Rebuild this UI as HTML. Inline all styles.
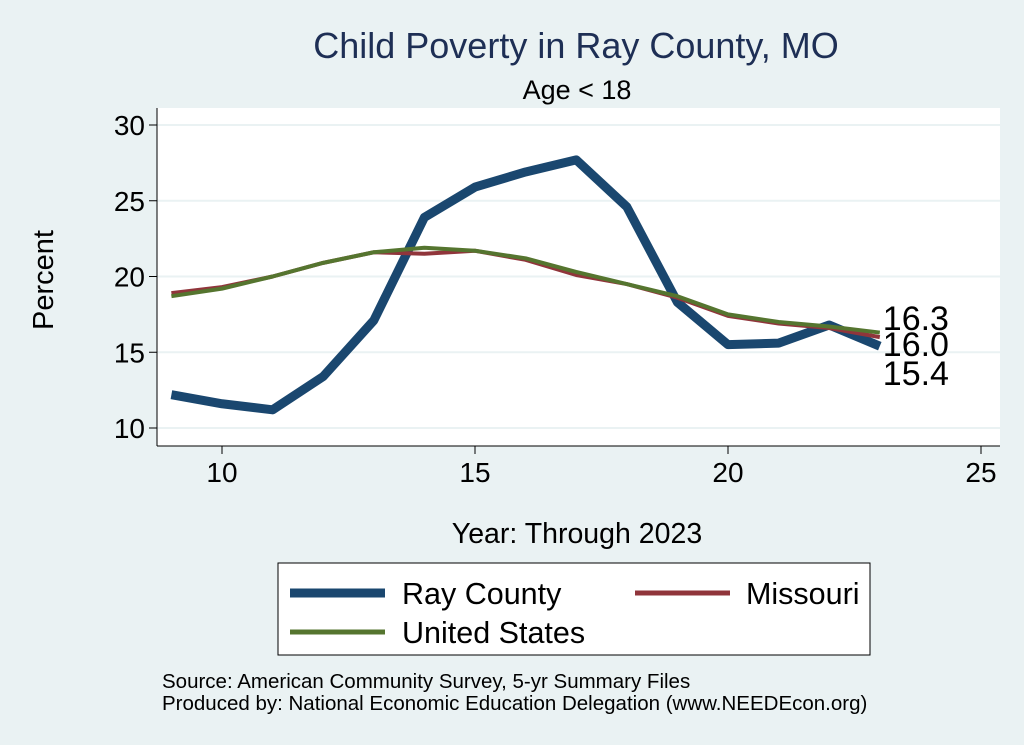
<!DOCTYPE html>
<html><head><meta charset="utf-8"><style>
body{margin:0;background:#EAF2F3;}
svg{display:block;font-family:"Liberation Sans",sans-serif;}
</style></head><body>
<svg width="1024" height="745">
<rect x="0" y="0" width="1024" height="745" fill="#EAF2F3"/>
<rect x="157" y="108" width="843" height="338" fill="#fff"/>
<text x="576" y="58" font-size="36" fill="#1E2F55" text-anchor="middle">Child Poverty in Ray County, MO</text>
<text x="577" y="99" font-size="27" fill="#000" text-anchor="middle">Age &lt; 18</text>
<g id="grid"></g>
<g id="axes"></g>
<g id="series"></g>
<g id="labels"></g>
<text x="53" y="280" font-size="29" text-anchor="middle" transform="rotate(-90 53 280)">Percent</text>
<text x="577" y="543" font-size="28.5" text-anchor="middle">Year: Through 2023</text>
<g>
<rect x="278" y="563" width="592" height="92" fill="#fff" stroke="#000" stroke-width="1"/>
<g><line x1="290" y1="593" x2="385" y2="593" stroke="#1A476F" stroke-width="9"/><text x="402" y="604" font-size="30.5">Ray County</text></g>
<g><line x1="635" y1="593" x2="730" y2="593" stroke="#90353B" stroke-width="5"/><text x="746" y="604" font-size="30.5">Missouri</text></g>
<g><line x1="290" y1="632" x2="385" y2="632" stroke="#55752F" stroke-width="5"/><text x="402" y="643" font-size="30.5">United States</text></g>
</g>
<text x="162" y="688" font-size="20.5">Source: American Community Survey, 5-yr Summary Files</text>
<text x="162" y="710" font-size="20.5">Produced by: National Economic Education Delegation (www.NEEDEcon.org)</text>
</svg>
<script>
const years=[9,10,11,12,13,14,15,16,17,18,19,20,21,22,23];
const rayCounty=[12.2,11.6,11.2,13.4,17.1,23.9,25.9,26.9,27.7,24.6,18.3,15.5,15.6,16.8,15.4];
const missouri=[18.9,19.3,20.0,20.9,21.6,21.5,21.7,21.1,20.1,19.5,18.6,17.4,16.9,16.6,16.0];
const unitedStates=[18.7,19.2,20.0,20.9,21.6,21.9,21.7,21.2,20.3,19.5,18.7,17.5,17.0,16.7,16.3];
const xTicks=[10,15,20,25];
const yTicks=[10,15,20,25,30];
const NS="http://www.w3.org/2000/svg";
const X=v=>222+(v-10)*50.6;
const Y=v=>428-(v-10)*15.15;
function mk(tag,attrs,parent){const e=document.createElementNS(NS,tag);for(const k in attrs)e.setAttribute(k,attrs[k]);document.getElementById(parent).appendChild(e);return e;}
yTicks.forEach(t=>{
 const g=mk('line',{x1:157,x2:1000,y1:Y(t),y2:Y(t),stroke:'#EAF2F3','stroke-width':2},'grid');
 
 
 const tk=mk('line',{x1:149,x2:157,y1:Y(t),y2:Y(t),stroke:'#000'},'axes');
 
 
 const l=mk('text',{x:145,y:Y(t)+10,'font-size':28,'text-anchor':'end'},'axes');l.textContent=t;
 
 
});
xTicks.forEach(t=>{
 const tk=mk('line',{x1:X(t),x2:X(t),y1:446,y2:454,stroke:'#000'},'axes');
 
 
 const l=mk('text',{x:X(t),y:482,'font-size':28,'text-anchor':'middle'},'axes');l.textContent=t;
 
 
});
const ya=mk('line',{x1:157,x2:157,y1:108,y2:446,stroke:'#000'},'axes');


const xa=mk('line',{x1:157,x2:1000,y1:446,y2:446,stroke:'#000'},'axes');


function line(vals,color,w,name){
 const p=mk('polyline',{points:years.map((y,i)=>X(y)+','+Y(vals[i])).join(' '),fill:'none',stroke:color,'stroke-width':w,'stroke-linejoin':'round'},'series');
 
 
}
line(rayCounty,'#1A476F',9,'line-ray-county');
line(missouri,'#90353B',4,'line-missouri');
line(unitedStates,'#55752F',4,'line-united-states');
const n=years.length-1;
[[unitedStates[n],-19,'label-united-states'],[missouri[n],7,'label-missouri'],[rayCounty[n],36,'label-ray-county']].forEach(([v,dy,nm])=>{
 const t=mk('text',{x:X(years[n])+3,y:Y(16.0)+dy+12,'font-size':34},'labels');
 t.textContent=v.toFixed(1);
 
 
});
</script>
</body></html>
